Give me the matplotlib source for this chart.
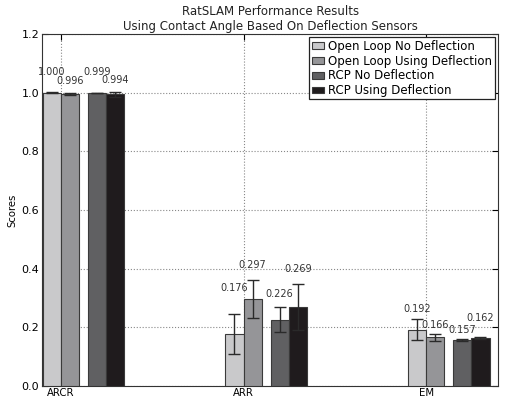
import numpy as np
import matplotlib
matplotlib.use("Agg")
import matplotlib.pyplot as plt

metrics = ["ARCR", "ARR", "EM"]
series = ["Open Loop No Deflection", "Open Loop Using Deflection",
          "RCP No Deflection", "RCP Using Deflection"]
values = [[1.000, 0.176, 0.192],
          [0.996, 0.297, 0.166],
          [0.999, 0.226, 0.157],
          [0.994, 0.269, 0.162]]
errors = [[0.001, 0.068, 0.035],
          [0.003, 0.065, 0.012],
          [0.001, 0.043, 0.004],
          [0.008, 0.078, 0.003]]
label_gap = [[0.07, 0.09, 0.035],
             [0.04, 0.05, 0.03],
             [0.07, 0.045, 0.03],
             [0.04, 0.05, 0.067]]

colors = ["#c9c9cb", "#959598", "#606062", "#1f1b1d"]
offsets = [-0.05, 0.05, 0.198, 0.298]
width = 0.1

plt.rcParams.update({"xtick.direction": "in", "ytick.direction": "in",
                     "xtick.top": True, "ytick.right": True,
                     "font.size": 8})
fig = plt.figure(figsize=(5.12, 3.99), dpi=100)
ax = fig.add_axes([0.082, 0.033, 0.891, 0.882])
x = np.arange(len(metrics))
for i, name in enumerate(series):
    pos = x + offsets[i]
    ax.bar(pos, values[i], width, color=colors[i], edgecolor="#3a3a3a",
           linewidth=0.8, label=name, zorder=3)
    ax.errorbar(pos, values[i], yerr=errors[i], fmt="none", ecolor="#2a2a2a",
                elinewidth=1.0, capsize=4, capthick=1.0, zorder=4)
    for j in range(len(metrics)):
        ax.text(pos[j], values[i][j] + errors[i][j] + label_gap[i][j],
                f"{values[i][j]:.3f}", ha="center", va="center",
                fontsize=7, color="#333333", zorder=5)

ax.set_xlim(-0.104, 2.395)
ax.set_ylim(0, 1.2)
ax.set_xticks(x)
ax.set_xticklabels(metrics, fontsize=7.3)
ax.set_yticks(np.arange(0, 1.21, 0.2))
ax.set_yticklabels([f"{v:.1f}" for v in np.arange(0, 1.21, 0.2)], fontsize=8)
ax.tick_params(axis="x", pad=1.5, length=4)
ax.tick_params(axis="y", pad=2, length=4)
ax.set_ylabel("Scores", fontsize=7.3, labelpad=3)
ax.grid(True, linestyle=":", color="#888888", linewidth=0.8, zorder=0)
for s in ax.spines.values():
    s.set_color("#333333")
ax.set_title("RatSLAM Performance Results\nUsing Contact Angle Based On Deflection Sensors",
             fontsize=8.5, color="#222222", pad=3, linespacing=1.2)
leg = ax.legend(loc="upper right", fontsize=8.5, fancybox=False, framealpha=1,
                edgecolor="#222222", handlelength=1.0, handleheight=0.5,
                handletextpad=0.4, borderpad=0.2, labelspacing=0.15,
                borderaxespad=0.3)
leg.get_frame().set_linewidth(0.9)
fig.savefig("out.png", dpi=100)
